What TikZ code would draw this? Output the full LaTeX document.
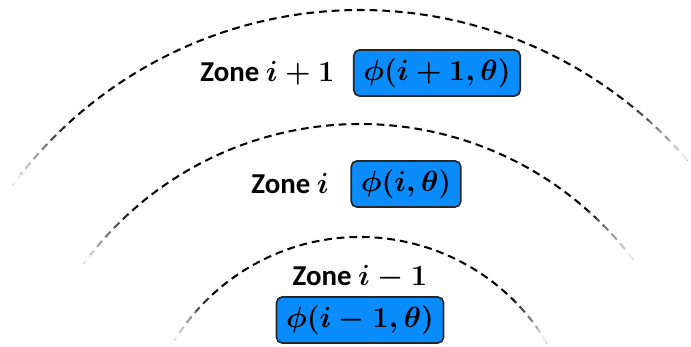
\documentclass[tikz,border=0pt]{standalone}
\usepackage{amsmath}
\usepackage{fontspec}
\setmainfont{Carlito}
\usepackage{xcolor}
\definecolor{zoneblue}{RGB}{10,140,252}
\usepackage{tikz}
\usetikzlibrary{positioning}
\tikzset{
  potbox/.style={
    rectangle, draw=black!85, line width=1.2pt, fill=zoneblue,
    rounded corners=4pt, inner xsep=0.24cm, minimum height=1.15cm,
    font=\fontsize{22.5}{27}\selectfont\boldmath},
  zonelbl/.style={
    inner sep=1pt, font=\fontsize{20.5}{24}\selectfont\bfseries\boldmath},
  zonearc/.style={
    dash pattern=on 5.5pt off 3.5pt, line width=1.45pt, black},
  arcfade/.style={white, line width=3pt},
}
% #1 centre, #2 radius, #3 right end angle, #4 left end angle, #5 fade span
\newcommand{\fadedarc}[5]{%
  \draw[zonearc] (#1) ++(#3:#2) arc[start angle=#3, end angle=#4, radius=#2];
  \foreach \j in {0,...,5}{
    \pgfmathsetmacro{\op}{(6-\j)/6.5}
    \pgfmathsetmacro{\ra}{#3+\j*#5/6}
    \pgfmathsetmacro{\rb}{#3+(\j+1)*#5/6}
    \pgfmathsetmacro{\la}{#4-\j*#5/6}
    \pgfmathsetmacro{\lb}{#4-(\j+1)*#5/6}
    \draw[arcfade, opacity=\op] (#1) ++(\ra:#2) arc[start angle=\ra, end angle=\rb, radius=#2];
    \draw[arcfade, opacity=\op] (#1) ++(\la:#2) arc[start angle=\la, end angle=\lb, radius=#2];
  }
}

\begin{document}
\begin{tikzpicture}[x=0.025cm, y=0.025cm, node distance=0.42cm]
  \useasboundingbox (0,0) rectangle (691,347);
  % zone boundaries
  \coordinate (outerc) at (360,-95);
  \coordinate (midc) at (360,-120);
  \coordinate (innerc) at (360,-108);
  \fadedarc{outerc}{432}{40.7}{143.5}{11}
  \fadedarc{midc}{343}{37.3}{143.6}{11}
  \fadedarc{innerc}{218}{30.9}{148.1}{14}
  % zones
  \node[potbox] (phiup) at (437,274) {$\phi(i+1,\theta)$};
  \node[zonelbl, left=of phiup] (zoneup) {Zone $i+1$};
  \node[potbox] (phimid) at (406,163) {$\phi(i,\theta)$};
  \node[zonelbl, left=0.5cm of phimid] (zonemid) {Zone $i$};
  \node[potbox] (philow) at (360,27) {$\phi(i-1,\theta)$};
  \node[zonelbl, above=0.12cm of philow] (zonelow) {Zone $i-1$};
\end{tikzpicture}
\end{document}
